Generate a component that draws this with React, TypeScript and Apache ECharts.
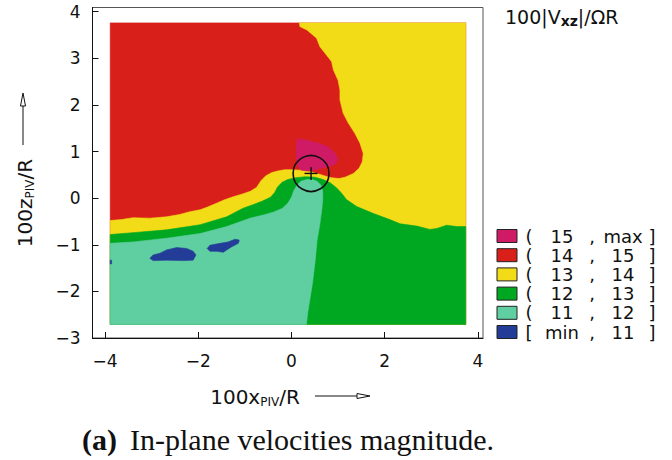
import React, { useEffect, useRef } from 'react';
import * as echarts from 'echarts';

// ---- axes ----
const xTicks = [-4, -2, 0, 2, 4];
const yTicks = [-3, -2, -1, 0, 1, 2, 3, 4];
const xRange = [-4.27, 4.11];
const yRange = [-3, 4.09];

// ---- classes (legend, top to bottom) ----
const levelOpen = ['(', '(', '(', '(', '(', '['];
const levelLow = ['15', '14', '13', '12', '11', 'min'];
const levelHigh = ['max', '15', '14', '13', '12', '11'];
const levelColors = ['#CF1B66', '#D91F1A', '#F2DC18', '#00A822', '#5FCEA0', '#233C98'];
const levelNames = levelLow.map((lo, i) => `${levelOpen[i]}${lo}, ${levelHigh[i]}]`);

// ---- measured field extent ----
const fieldX = [-3.89, 3.74];
const fieldY = [-2.71, 3.76];

// ---- class boundaries (x, z) ----
const redYellowEdge = [
  [0.17, 3.76], [0.18, 3.68], [0.33, 3.61], [0.54, 3.43], [0.61, 3.25], [0.72, 3.11], [0.86, 2.93],
  [0.9, 2.75], [1.0, 2.53], [1.04, 2.32], [1.04, 2.11], [1.11, 1.82], [1.22, 1.61], [1.36, 1.39],
  [1.47, 1.18], [1.54, 0.96], [1.52, 0.78], [1.45, 0.64], [1.33, 0.53], [1.15, 0.45], [1.02, 0.42],
  [0.85, 0.44], [0.7, 0.48], [0.55, 0.53], [0.4, 0.57], [0.2, 0.6], [0.0, 0.61], [-0.15, 0.61],
  [-0.3, 0.58], [-0.42, 0.55], [-0.55, 0.48], [-0.65, 0.38], [-0.75, 0.23], [-0.88, 0.15],
  [-1.05, 0.09], [-1.25, 0.03], [-1.45, -0.04], [-1.61, -0.11], [-1.8, -0.19], [-1.96, -0.25],
  [-2.18, -0.29], [-2.4, -0.35], [-2.68, -0.4], [-3.04, -0.43], [-3.4, -0.42], [-3.65, -0.46],
  [-3.89, -0.48],
];
const yellowGreenEdge = [
  [-3.89, -0.78], [-3.4, -0.74], [-2.68, -0.68], [-1.96, -0.57], [-1.39, -0.4], [-1.05, -0.22],
  [-0.8, -0.13], [-0.62, -0.06], [-0.45, 0.02], [-0.36, 0.12], [-0.3, 0.24], [-0.2, 0.34],
  [-0.08, 0.4], [0.1, 0.44], [0.3, 0.46], [0.5, 0.45], [0.68, 0.4], [0.83, 0.33], [0.97, 0.22],
  [1.08, 0.1], [1.18, -0.03], [1.4, -0.18], [1.76, -0.33], [2.11, -0.46], [2.33, -0.55],
  [2.69, -0.6], [2.97, -0.67], [3.12, -0.65], [3.33, -0.58], [3.55, -0.61], [3.74, -0.61],
];
const greenLightEdge = [
  [-3.89, -0.97], [-3.4, -0.94], [-2.68, -0.86], [-1.96, -0.76], [-1.39, -0.61], [-0.89, -0.43],
  [-0.6, -0.36], [-0.39, -0.3], [-0.2, -0.22], [-0.08, -0.11], [0.0, 0.02], [0.05, 0.16],
  [0.12, 0.28], [0.2, 0.36], [0.33, 0.4], [0.45, 0.4], [0.55, 0.36], [0.63, 0.28], [0.67, 0.15],
  [0.67, -0.05], [0.65, -0.25], [0.61, -0.55], [0.55, -0.9], [0.51, -1.33], [0.45, -1.83],
  [0.39, -2.2], [0.35, -2.45], [0.32, -2.71],
];
const blueBlobA = [
  [-3.04, -1.29], [-2.97, -1.34], [-2.68, -1.33], [-2.32, -1.34], [-2.11, -1.33], [-2.05, -1.22],
  [-2.11, -1.14], [-2.25, -1.08], [-2.46, -1.06], [-2.68, -1.11], [-2.82, -1.18], [-2.97, -1.22],
];
const blueBlobB = [
  [-1.81, -1.08], [-1.75, -1.01], [-1.53, -0.97], [-1.36, -0.94], [-1.21, -0.88], [-1.12, -0.9],
  [-1.14, -0.97], [-1.28, -1.04], [-1.39, -1.11], [-1.46, -1.16], [-1.61, -1.14], [-1.75, -1.14],
];
const blueBlobC = [[-3.89, -1.33], [-3.86, -1.33], [-3.86, -1.41], [-3.89, -1.41]];
const magentaPatch = [
  [0.12, 1.27], [0.25, 1.26], [0.4, 1.22], [0.61, 1.17], [0.8, 1.09], [0.93, 0.97], [0.99, 0.85],
  [0.97, 0.76], [0.88, 0.7], [0.7, 0.66], [0.52, 0.61], [0.36, 0.58], [0.22, 0.6], [0.14, 0.66],
  [0.11, 0.8], [0.1, 0.98], [0.11, 1.12],
];
const probeCenter = [0.42, 0.53];
const probeRadius = 0.385;
const probeArm = 0.14;

const fieldRect = [
  [fieldX[0], fieldY[0]], [fieldX[1], fieldY[0]], [fieldX[1], fieldY[1]], [fieldX[0], fieldY[1]],
];
const regions = [
  { level: 1, polys: [fieldRect] },
  { level: 2, polys: [[...redYellowEdge, [fieldX[0], fieldY[0]], [fieldX[1], fieldY[0]], [fieldX[1], fieldY[1]]]] },
  { level: 3, polys: [[...yellowGreenEdge, [fieldX[1], fieldY[0]], [fieldX[0], fieldY[0]]]] },
  { level: 4, polys: [[...greenLightEdge, [fieldX[0], fieldY[0]]]] },
  { level: 5, polys: [blueBlobA, blueBlobB, blueBlobC] },
  { level: 0, polys: [magentaPatch] },
];

const FONT = 'DejaVu Sans';
const fmt = (v: number) => (v < 0 ? '\u2212' + Math.abs(v) : String(v));

export default function App() {
  const ref = useRef<HTMLDivElement>(null);
  useEffect(() => {
    if (!ref.current) return;
    const chart = echarts.init(ref.current, undefined, { renderer: 'svg' });

    const series: any[] = regions.map((r) => ({
      type: 'custom',
      name: levelNames[r.level],
      coordinateSystem: 'cartesian2d',
      silent: true,
      data: r.polys.map((p) => p[0]),
      encode: { x: 0, y: 1 },
      renderItem: (params: any, api: any) => ({
        type: 'polygon',
        shape: { points: r.polys[params.dataIndex].map((p) => api.coord(p)) },
        style: { fill: levelColors[r.level], stroke: levelColors[r.level], lineWidth: 0.6 },
      }),
    }));
    series.push({
      type: 'custom',
      name: 'probe',
      coordinateSystem: 'cartesian2d',
      silent: true,
      data: [probeCenter],
      encode: { x: 0, y: 1 },
      renderItem: (params: any, api: any) => {
        const c = api.coord(probeCenter);
        const r = api.size([probeRadius, 0])[0];
        const a = api.size([probeArm, 0])[0];
        return {
          type: 'group',
          children: [
            { type: 'circle', shape: { cx: c[0], cy: c[1], r }, style: { fill: 'none', stroke: '#111', lineWidth: 1.6 } },
            { type: 'line', shape: { x1: c[0] - a, y1: c[1], x2: c[0] + a, y2: c[1] }, style: { stroke: '#111', lineWidth: 1.4 } },
            { type: 'line', shape: { x1: c[0], y1: c[1] - a, x2: c[0], y2: c[1] + a }, style: { stroke: '#111', lineWidth: 1.4 } },
          ],
        };
      },
    });

    const rowY0 = 236;
    const rowStep = 19.2;
    const legendEls: any[] = [];
    levelColors.forEach((col, i) => {
      const cy = rowY0 + i * rowStep;
      const ts = { fontFamily: FONT, fontSize: 18, fill: '#111', verticalAlign: 'middle' };
      legendEls.push({ type: 'rect', shape: { x: 497, y: cy - 6.5, width: 20, height: 13 }, style: { fill: col, stroke: '#222', lineWidth: 1 } });
      legendEls.push({ type: 'text', x: 529, y: cy, style: { ...ts, text: levelOpen[i], align: 'center' } });
      legendEls.push({ type: 'text', x: 562, y: cy, style: { ...ts, text: levelLow[i], align: 'center' } });
      legendEls.push({ type: 'text', x: 592, y: cy, style: { ...ts, text: ',', align: 'center' } });
      legendEls.push({ type: 'text', x: 623, y: cy, style: { ...ts, text: levelHigh[i], align: 'center' } });
      legendEls.push({ type: 'text', x: 652, y: cy, style: { ...ts, text: ']', align: 'center' } });
    });

    const nameRich = {
      m: { fontFamily: FONT, fontSize: 20, lineHeight: 22, fill: '#111' },
      s: { fontFamily: FONT, fontSize: 12, lineHeight: 12, fill: '#111', verticalAlign: 'bottom' },
    };

    const option: any = {
      animation: false,
      grid: { left: 92.5, top: 7.5, width: 390.5, height: 330.5, show: true, borderColor: '#555', borderWidth: 1 },
      xAxis: {
        type: 'value', min: xRange[0], max: xRange[1],
        splitLine: { show: false },
        axisLine: { show: true, onZero: false, lineStyle: { color: '#111', width: 1 } },
        axisTick: { show: true, inside: true, length: 6, customValues: xTicks, lineStyle: { color: '#111' } },
        axisLabel: { customValues: xTicks, formatter: fmt, fontFamily: FONT, fontSize: 17, color: '#111', margin: 14 },
      },
      yAxis: {
        type: 'value', min: yRange[0], max: yRange[1],
        splitLine: { show: false },
        axisLine: { show: true, onZero: false, lineStyle: { color: '#111', width: 1 } },
        axisTick: { show: true, inside: true, length: 6, customValues: yTicks, lineStyle: { color: '#111' } },
        axisLabel: { customValues: yTicks, formatter: fmt, fontFamily: FONT, fontSize: 17, color: '#111', margin: 12 },
      },
      series,
      graphic: [
        {
          type: 'text', x: 505, y: 17,
          style: {
            text: '{m|100|V}{s|xz}{m||/ΩR}', align: 'left', verticalAlign: 'middle',
            rich: {
              m: { fontFamily: FONT, fontSize: 19, lineHeight: 22, fill: '#111' },
              s: { fontFamily: FONT, fontSize: 14, fontWeight: 'bold', lineHeight: 12, fill: '#111', verticalAlign: 'bottom' },
            },
          },
        },
        ...legendEls,
        {
          type: 'text', x: 255, y: 397,
          style: { text: '{m|100x}{s|PIV}{m|/R}', align: 'center', verticalAlign: 'middle', rich: nameRich },
        },
        { type: 'line', shape: { x1: 315, y1: 396, x2: 357, y2: 396 }, style: { stroke: '#111', lineWidth: 1 } },
        { type: 'polygon', shape: { points: [[370, 396], [357, 393.5], [357, 398.5]] }, style: { fill: '#fff', stroke: '#111', lineWidth: 1 } },
        {
          type: 'text', x: 25, y: 203, rotation: Math.PI / 2,
          style: { text: '{m|100z}{s|PIV}{m|/R}', align: 'center', verticalAlign: 'middle', rich: nameRich },
        },
        { type: 'line', shape: { x1: 23, y1: 145, x2: 23, y2: 106 }, style: { stroke: '#111', lineWidth: 1 } },
        { type: 'polygon', shape: { points: [[23, 93], [20.5, 106], [25.5, 106]] }, style: { fill: '#fff', stroke: '#111', lineWidth: 1 } },
        {
          type: 'text', x: 82, y: 439,
          style: { text: '(a)', fontFamily: 'Liberation Serif', fontWeight: 'bold', fontSize: 30, fill: '#111', align: 'left', verticalAlign: 'middle' },
        },
        {
          type: 'text', x: 130, y: 439,
          style: { text: 'In-plane velocities magnitude.', fontFamily: 'Liberation Serif', fontSize: 30, fill: '#111', align: 'left', verticalAlign: 'middle' },
        },
      ],
    };
    chart.setOption(option);
    return () => chart.dispose();
  }, []);
  return <div ref={ref} style={{ position: 'fixed', left: 0, top: 0, width: 672, height: 460, background: '#fff' }} />;
}
